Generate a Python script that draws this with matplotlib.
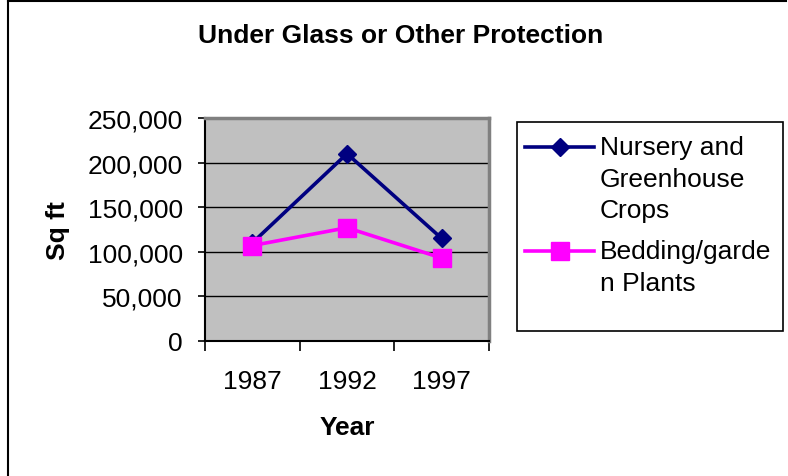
"""
Under Glass or Other Protection - recriação do gráfico estilo Excel.
"""

import matplotlib
matplotlib.use('Agg')
import matplotlib.pyplot as plt
from matplotlib.lines import Line2D
from matplotlib.patches import Rectangle
from matplotlib.ticker import FuncFormatter, FixedLocator

# ── Dados ──────────────────────────────────────────────────────
YEARS = ['1987', '1992', '1997']
NURSERY = [110000, 210000, 115000]
BEDDING = [107000, 127000, 93000]
LABELS = ['Nursery and\nGreenhouse\nCrops', 'Bedding/garde\nn Plants']
Y_TICKS = [0, 50000, 100000, 150000, 200000, 250000]
# ───────────────────────────────────────────────────────────────

W, H = 788, 477
plt.rcParams['font.family'] = ['Liberation Sans', 'DejaVu Sans']

NAVY = '#000080'
MAGENTA = '#FF00FF'
FS = 19


def fx(px):
    return px / W


def fy(py):
    return 1 - py / H


fig = plt.figure(figsize=(W / 100, H / 100), dpi=100)

# moldura do gráfico (apenas topo e esquerda visíveis)
fig.add_artist(Line2D([fx(8), fx(786)], [fy(2), fy(2)], color='black', lw=1.5,
                      transform=fig.transFigure))
fig.add_artist(Line2D([fx(8), fx(8)], [fy(2), fy(477)], color='black', lw=1.5,
                      transform=fig.transFigure))

ax = fig.add_axes([fx(205), fy(342), fx(489) - fx(205), fy(119) - fy(342)])
ax.set_facecolor('#C0C0C0')

x = range(len(YEARS))
ax.plot(x, NURSERY, color=NAVY, lw=2.6, marker='D', markersize=9.5,
        markerfacecolor=NAVY, markeredgecolor=NAVY, zorder=3)
ax.plot(x, BEDDING, color=MAGENTA, lw=2.6, marker='s', markersize=13,
        markerfacecolor=MAGENTA, markeredgecolor=MAGENTA, zorder=4)

ax.set_xlim(-0.5, len(YEARS) - 0.5)
ax.set_ylim(0, 250000)

# eixo Y
ax.set_yticks(Y_TICKS)
ax.yaxis.set_major_formatter(FuncFormatter(lambda v, p: f'{int(v):,}'))
ax.tick_params(axis='y', direction='out', length=5, width=1.2, pad=11,
               labelsize=FS, colors='black')
for v in Y_TICKS[1:-1]:
    ax.axhline(v, color='black', lw=1, zorder=1)

# eixo X: rótulos no centro, marcas entre categorias
ax.set_xticks(list(x))
ax.set_xticklabels(YEARS)
ax.tick_params(axis='x', which='major', length=0, pad=20, labelsize=FS)
ax.xaxis.set_minor_locator(FixedLocator([-0.5, 0.5, 1.5, 2.5]))
ax.tick_params(axis='x', which='minor', direction='out', length=7, width=1.2)

for side in ['top', 'right']:
    ax.spines[side].set_color('#808080')
    ax.spines[side].set_linewidth(2.5)
for side in ['left', 'bottom']:
    ax.spines[side].set_color('black')
    ax.spines[side].set_linewidth(1.5)

# títulos
fig.text(fx(401), fy(36), 'Under Glass or Other Protection', ha='center',
         va='center', fontsize=19, fontweight='bold')
fig.text(fx(58), fy(231), 'Sq ft', ha='center', va='center', rotation=90,
         fontsize=FS, fontweight='bold')
fig.text(fx(347), fy(428), 'Year', ha='center', va='center', fontsize=FS,
         fontweight='bold')

# legenda desenhada à mão (alinhada à primeira linha do texto, como no Excel)
fig.add_artist(Rectangle((fx(517), fy(332)), fx(783) - fx(517),
                         fy(123) - fy(332), transform=fig.transFigure,
                         facecolor='white', edgecolor='black', lw=1.2))
entries = [(LABELS[0], NAVY, 'D', 9.5, 148), (LABELS[1], MAGENTA, 's', 13, 252)]
for label, color, marker, ms, ypx in entries:
    fig.add_artist(Line2D([fx(525), fx(594)], [fy(ypx), fy(ypx)], color=color,
                          lw=2.6, transform=fig.transFigure))
    fig.add_artist(Line2D([fx(559.5)], [fy(ypx)], color=color, marker=marker,
                          markersize=ms, transform=fig.transFigure))
    fig.text(fx(600), fy(ypx - 12), label, ha='left', va='top', fontsize=FS,
             linespacing=1.4)

plt.savefig('out.png', dpi=100)
